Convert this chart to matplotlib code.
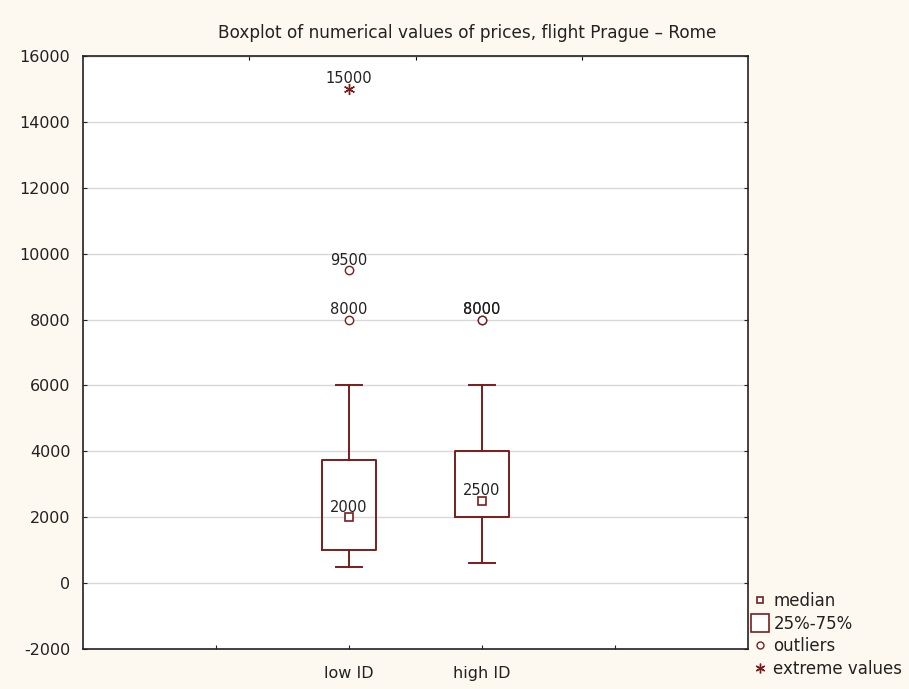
import matplotlib.pyplot as plt
from matplotlib.lines import Line2D

# flight prices, Prague - Rome
groups = ["low ID", "high ID"]
whis_lo = [500, 600]
q1 = [1000, 2000]
medians = [2000, 2500]
q3 = [3750, 4000]
whis_hi = [6000, 6000]
outliers = [[8000, 9500], [8000, 8000]]
extremes = [[15000], []]

dark = "#7b1c1c"
bg = "#fdf9f0"

plt.rcParams['font.family'] = ['DejaVu Sans']
plt.rcParams['axes.unicode_minus'] = False

fig = plt.figure(figsize=(9.09, 6.89), dpi=100, facecolor=bg)
ax = fig.add_axes([0.0913, 0.0581, 0.7316, 0.8606])
ax.set_facecolor("white")

pos = [2, 3]
stats = []
for i, g in enumerate(groups):
    stats.append(dict(label=g, whislo=whis_lo[i], q1=q1[i], med=medians[i],
                      q3=q3[i], whishi=whis_hi[i], fliers=[]))

ax.bxp(stats, positions=pos, widths=0.4, showfliers=False, showcaps=True,
       boxprops=dict(color=dark, linewidth=1.4),
       whiskerprops=dict(color=dark, linewidth=1.4),
       capprops=dict(color=dark, linewidth=1.4),
       medianprops=dict(linewidth=0), capwidths=0.2, zorder=3)

# median squares with their values
ax.plot(pos, medians, ls='none', marker='s', ms=6, mfc='white', mec=dark,
        mew=1.2, zorder=4)
for x, m in zip(pos, medians):
    ax.annotate(f"{m}", (x, m), xytext=(0, 4), textcoords='offset points',
                ha='center', va='baseline', fontsize=10.5, color='#222222',
                zorder=5)

# outliers and extreme values
for x, vals in zip(pos, outliers):
    ax.plot([x] * len(vals), vals, ls='none', marker='o', ms=6, mfc='white',
            mec=dark, mew=1.0, zorder=4)
    for v in vals:
        ax.annotate(f"{v}", (x, v), xytext=(0, 4), textcoords='offset points',
                    ha='center', va='baseline', fontsize=10.5, color='#222222')
for x, vals in zip(pos, extremes):
    ax.plot([x] * len(vals), vals, ls='none', marker=(6, 2, 0), ms=8,
            color=dark, mew=1.0, zorder=4)
    for v in vals:
        ax.annotate(f"{v}", (x, v), xytext=(0, 4), textcoords='offset points',
                    ha='center', va='baseline', fontsize=10.5, color='#222222')

ax.set_xlim(0, 5)
ax.set_ylim(-2000, 16000)
ax.set_xticks([1, 2, 3, 4])
ax.set_xticklabels(["", groups[0], groups[1], ""])
ax.set_yticks(range(-2000, 16001, 2000))
ax.yaxis.grid(True, color='#d8d8d8', linewidth=1)
ax.set_axisbelow(True)
ax.tick_params(axis='both', direction='in', length=3, labelsize=11.5,
               colors='#222222', top=False, right=True)
ax.tick_params(axis='y', pad=9)
ax.tick_params(axis='x', pad=12)
for s in ax.spines.values():
    s.set_color('#222222')
    s.set_linewidth(1.2)

sec = ax.secondary_xaxis('top')
sec.set_xticks([1.25, 2.5, 3.75])
sec.set_xticklabels([])
sec.tick_params(direction='in', length=3)

fig.text(0.5135, 0.952, "Boxplot of numerical values of prices, flight Prague \u2013 Rome",
         ha='center', va='center', fontsize=12.2, color='#222222')

handles = [
    Line2D([], [], ls='none', marker='s', ms=5, mfc='white', mec=dark, mew=1.2),
    Line2D([], [], ls='none', marker='s', ms=13, mfc='white', mec=dark, mew=1.2),
    Line2D([], [], ls='none', marker='o', ms=5, mfc='white', mec=dark, mew=1.0),
    Line2D([], [], ls='none', marker=(6, 2, 0), ms=7, color=dark, mew=1.0),
]
labels = ["median", "25%-75%", "outliers", "extreme values"]
fig.legend(handles, labels, loc='upper left', bbox_to_anchor=(0.827, 0.141),
           frameon=False, fontsize=12, handlelength=1.0, handletextpad=0.3,
           labelspacing=0.28, borderpad=0, borderaxespad=0, labelcolor='#222222')

plt.savefig('out.png', dpi=100, facecolor=bg)
plt.close()
